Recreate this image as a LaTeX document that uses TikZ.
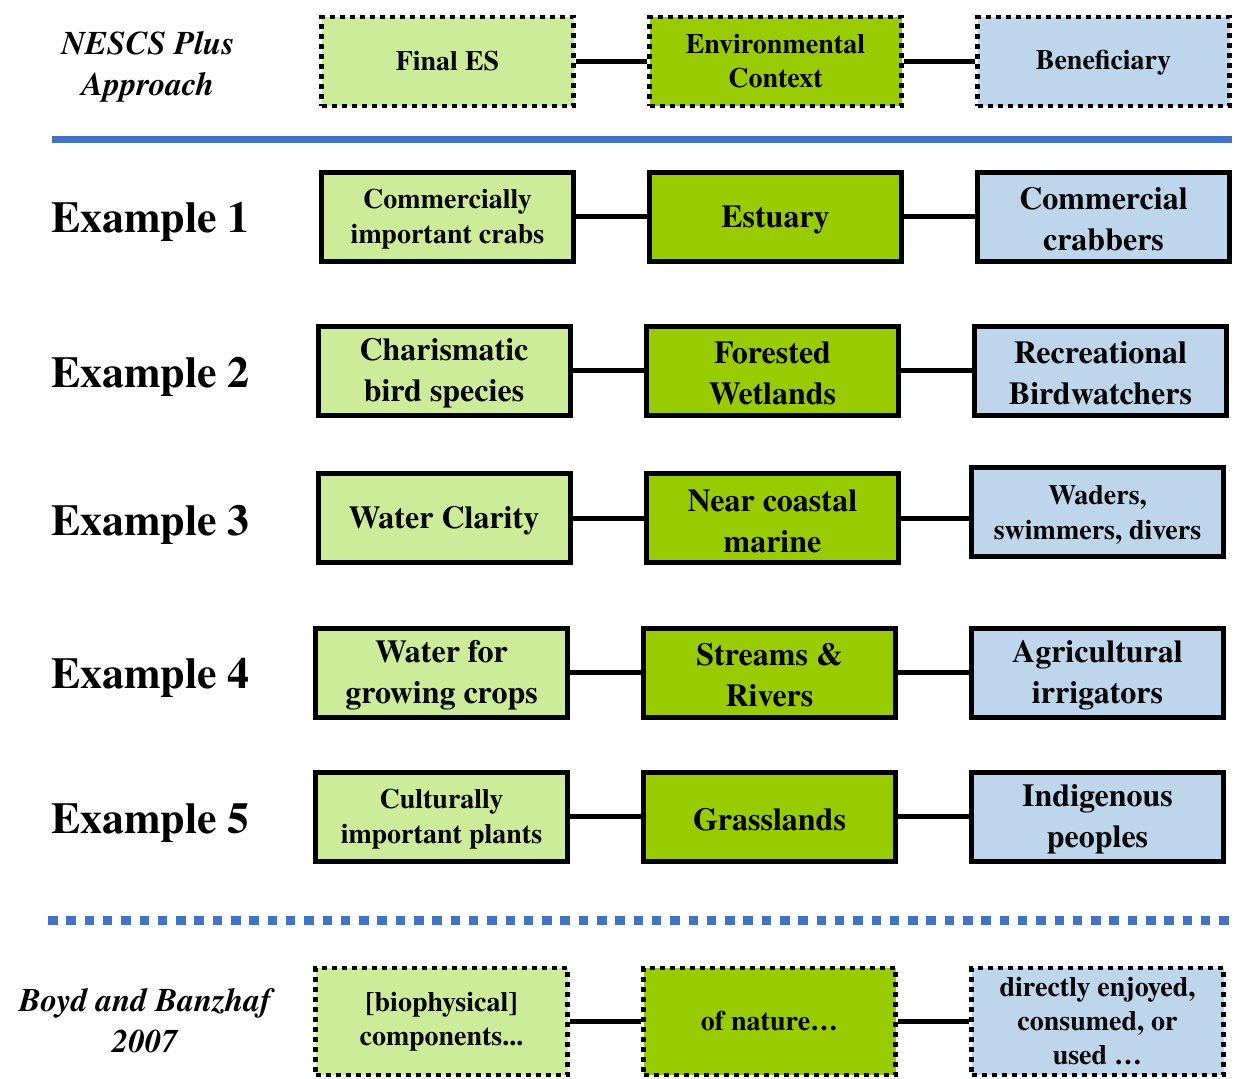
\documentclass[tikz,border=0pt]{standalone}
\usepackage{fontspec}
\setmainfont{texgyretermes}[Extension=.otf, UprightFont=*-regular, BoldFont=*-bold, ItalicFont=*-italic, BoldItalicFont=*-bolditalic]
\definecolor{lgreen}{RGB}{205,236,154}
\definecolor{dgreen}{RGB}{153,204,0}
\definecolor{lblue}{RGB}{190,214,236}
\definecolor{bline}{RGB}{68,114,196}
\tikzset{
  bx/.style={draw=black, line width=5pt, minimum width=252pt, minimum height=89pt, inner sep=0pt, align=center, font=\bfseries\fontsize{32}{41}\selectfont},
  txt/.style={align=center, inner sep=0pt, yshift=-3pt, font=\bfseries\fontsize{32}{41}\selectfont},
  tx/.style={label={[txt]center:{#1}}},
  txs/.style={label={[txt, font=\bfseries\fontsize{28}{35}\selectfont]center:{#1}}},
  dbx/.style={bx, line width=4.5pt, dash pattern=on 5pt off 5pt, font=\bfseries\fontsize{28}{34}\selectfont},
  fe/.style={fill=lgreen},
  ctx/.style={fill=dgreen},
  ben/.style={fill=lblue},
  conn/.style={line width=5pt, black},
  exlab/.style={anchor=base west, inner sep=0pt, font=\bfseries\fontsize{44}{48}\selectfont},
  side/.style={align=center, inner sep=0pt, font=\bfseries\itshape\fontsize{33}{41}\selectfont}
}
\begin{document}
\begin{tikzpicture}[x=1pt,y=-1pt]
\useasboundingbox (0,0) rectangle (1237,1079);
\clip (0,0) rectangle (1237,1079);
% header
\node[side] (hl) at (148,67) {NESCS Plus\\Approach};
\node[dbx,fe] (h1) at (447.5,61.5) {Final ES};
\node[dbx,ctx] (h2) at (775.5,61.5) {Environmental\\Context};
\node[dbx,ben,label={[font=\bfseries\fontsize{28}{34}\selectfont, inner sep=0pt, yshift=-1.5pt]center:Beneficiary}] (h3) at (1103.5,61.5) {};
\draw[conn] (h1.east) -- (h2.west);
\draw[conn] (h2.east) -- (h3.west);
\coordinate (bl1) at (52,139.5);
\coordinate (bl2) at (1232,139.5);
\draw[bline, line width=7pt] (bl1) -- (bl2);
% example 1
\node[exlab] (e1) at (51,232.5) {Example 1};
\node[bx,fe,txs={Commercially\\important crabs}] (a1) at (447.5,216.5) {};
\node[bx,ctx,tx={Estuary}] (b1) at (775.5,216.5) {};
\node[bx,ben,tx={Commercial\\crabbers}] (c1) at (1103.5,216.5) {};
\draw[conn] (a1.east) -- (b1.west);
\draw[conn] (b1.east) -- (c1.west);
% example 2
\node[exlab] (e2) at (51,387.5) {Example 2};
\node[bx,fe,tx={Charismatic\\bird species}] (a2) at (444,370.5) {};
\node[bx,ctx,tx={Forested\\Wetlands}] (b2) at (772.5,370.5) {};
\node[bx,ben,tx={Recreational\\Birdwatchers}] (c2) at (1100.5,370.5) {};
\draw[conn] (a2.east) -- (b2.west);
\draw[conn] (b2.east) -- (c2.west);
% example 3
\node[exlab] (e3) at (51,535.5) {Example 3};
\node[bx,fe,tx={Water Clarity}] (a3) at (444,518) {};
\node[bx,ctx,tx={Near coastal\\marine}] (b3) at (772.5,518) {};
\node[bx,ben,txs={Waders,\\swimmers, divers}] (c3) at (1097.5,512) {};
\draw[conn] (a3.east) -- (b3.west);
\draw[conn] (b3.east) -- (b3.east -| c3.west);
% example 4
\node[exlab] (e4) at (51,688.5) {Example 4};
\node[bx,fe,tx={Water for\\growing crops}] (a4) at (441.5,672.5) {};
\node[bx,ctx,tx={Streams \&\\Rivers}] (b4) at (769.5,672.5) {};
\node[bx,ben,tx={Agricultural\\irrigators}] (c4) at (1097.5,672.5) {};
\draw[conn] (a4.east) -- (b4.west);
\draw[conn] (b4.east) -- (c4.west);
% example 5
\node[exlab] (e5) at (51,833.5) {Example 5};
\node[bx,fe,txs={Culturally\\important plants}] (a5) at (441.5,816.5) {};
\node[bx,ctx,tx={Grasslands}] (b5) at (769.5,816.5) {};
\node[bx,ben,tx={Indigenous\\peoples}] (c5) at (1097.5,816.5) {};
\draw[conn] (a5.east) -- (b5.west);
\draw[conn] (b5.east) -- (c5.west);
% dotted separator
\coordinate (dl1) at (48,920.5);
\coordinate (dl2) at (1230,920.5);
\draw[bline, line width=9pt, dash pattern=on 9.5pt off 8.8pt] (dl1) -- (dl2);
% bottom
\node[side] (fl) at (145,1021) {Boyd and Banzhaf\\2007};
\node[dbx,fe,minimum height=107pt] (f1) at (441.5,1021.5) {[biophysical]\\components...};
\node[dbx,ctx,minimum height=107pt] (f2) at (769.5,1021.5) {of nature\ldots};
\node[dbx,ben,minimum height=107pt] (f3) at (1097.5,1021.5) {directly enjoyed,\\consumed, or\\used \ldots};
\draw[conn] (f1.east) -- (f2.west);
\draw[conn] (f2.east) -- (f3.west);
\end{tikzpicture}
\end{document}
